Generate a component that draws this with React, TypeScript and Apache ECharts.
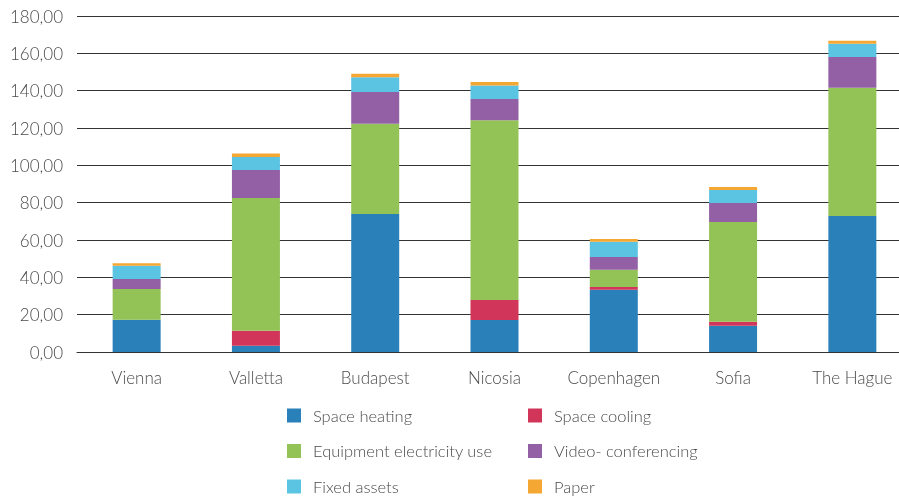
import React, { useEffect, useRef } from "react";
import * as echarts from "echarts";

const cities = ["Vienna", "Valletta", "Budapest", "Nicosia", "Copenhagen", "Sofia", "The Hague"];
const spaceHeating = [17.3, 3.4, 73.9, 17.1, 33.4, 14.1, 72.9];
const spaceCooling = [0, 8.0, 0, 10.7, 1.4, 2.1, 0];
const equipment = [16.4, 71.1, 48.4, 96.4, 9.3, 53.4, 68.6];
const video = [5.4, 15.0, 17.0, 11.3, 6.8, 10.2, 16.6];
const fixedAssets = [7.1, 7.0, 7.9, 7.3, 8.2, 7.0, 7.0];
const paper = [1.4, 1.8, 1.8, 1.8, 1.4, 1.6, 1.6];
const yTicks = [0, 20, 40, 60, 80, 100, 120, 140, 160, 180];

const seriesDefs = [
  { name: "Space heating", data: spaceHeating, color: "#2a80b9" },
  { name: "Space cooling", data: spaceCooling, color: "#d1365a" },
  { name: "Equipment electricity use", data: equipment, color: "#93c356" },
  { name: "Video- conferencing", data: video, color: "#9360a6" },
  { name: "Fixed assets", data: fixedAssets, color: "#5bc4e3" },
  { name: "Paper", data: paper, color: "#f5a733" },
];

const FONT = "Lato";
const TEXT_COLOR = "#4a4a4a";

export default function App() {
  const ref = useRef<HTMLDivElement>(null);
  useEffect(() => {
    const chart = echarts.init(ref.current!, null, { renderer: "svg" });
    const legendCommon = {
      orient: "vertical",
      height: 130,
      itemWidth: 14,
      itemHeight: 14,
      itemGap: 18.5,
      icon: "rect",
      padding: 0,
      textStyle: { fontFamily: FONT, fontSize: 16.5, fontWeight: 300, color: TEXT_COLOR, padding: [0, 0, 0, 7] },
    };
    chart.setOption({
      animation: false,
      grid: { left: 77, right: 3, top: 16, bottom: 149, containLabel: false },
      legend: [
        { ...legendCommon, left: 287, top: 407, data: ["Space heating", "Equipment electricity use", "Fixed assets"] },
        { ...legendCommon, left: 528, top: 407, data: ["Space cooling", "Video- conferencing", "Paper"] },
      ],
      xAxis: {
        type: "category",
        data: cities,
        axisTick: { show: false },
        axisLine: { show: true, lineStyle: { color: "#333", width: 1 } },
        axisLabel: { interval: 0, fontFamily: FONT, fontSize: 17, fontWeight: 300, color: TEXT_COLOR, margin: 17 },
      },
      yAxis: {
        type: "value",
        min: yTicks[0],
        max: yTicks[yTicks.length - 1],
        interval: 20,
        axisLine: { show: false },
        axisTick: { show: false },
        splitLine: { lineStyle: { color: "#333", width: 1 } },
        axisLabel: {
          fontFamily: FONT,
          fontSize: 17,
          fontWeight: 300,
          color: TEXT_COLOR,
          margin: 14,
          formatter: (v: number) => v.toFixed(2).replace(".", ","),
        },
      },
      series: seriesDefs.map((s) => ({
        name: s.name,
        type: "bar",
        stack: "total",
        barWidth: 48,
        data: s.data,
        itemStyle: { color: s.color },
      })),
    });
    return () => chart.dispose();
  }, []);
  return (
    <div style={{ position: "fixed", left: 0, top: 0, width: 899, height: 501, overflow: "hidden" }}>
      <div ref={ref} style={{ width: 915, height: 501 }} />
    </div>
  );
}
